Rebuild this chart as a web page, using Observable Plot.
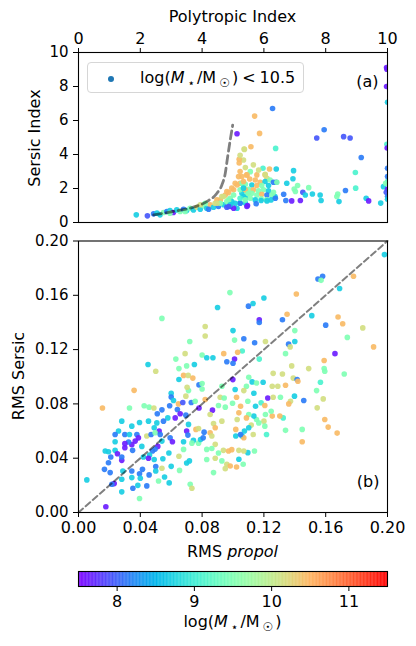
<!DOCTYPE html>
<html><head><meta charset="utf-8">
<script src="https://cdn.jsdelivr.net/npm/d3@7"></script>
<script src="https://cdn.jsdelivr.net/npm/@observablehq/plot@0.6"></script>
<style>
body{margin:0;background:#fff;font-family:"DejaVu Sans",sans-serif;}
#root{position:relative;width:416px;height:646px;overflow:hidden;background:#fff;}
#root svg{position:absolute;left:0;}
.lab{position:absolute;font-size:16px;white-space:nowrap;line-height:16px;color:#000;font-family:"DejaVu Sans",sans-serif;}
.lab sub{font-size:12px;vertical-align:-4px;line-height:0;margin:0 2px 0 3px;}
.lab .op{margin:0 4px;}
.rot{transform:translate(-50%,-50%) rotate(-90deg);}
#legend{position:absolute;left:87px;top:62px;width:215px;height:29px;border:1px solid #d6d6d6;border-radius:4px;background:rgba(255,255,255,0.85);}
#legdot{position:absolute;left:20px;top:13px;width:6px;height:6px;border-radius:50%;background:#1f77b4;}
#legtxt{left:52px;top:7px;}
</style></head><body><div id="root"></div>
<script>
// mass codes (log M*/Msun)
const P = 7.65, BP = 7.95, B = 8.15, C = 8.7, CG = 9.1, LG = 9.5, YG = 10.15, O = 10.45;

// panel (a): [polytropic index, sersic index, log mass]
const panelA = [
[6.28,6.71,B],[5.70,6.26,O],[5.86,5.24,O],[5.13,5.22,P],[7.71,4.97,BP],[7.95,5.46,B],[8.58,5.05,BP],[8.79,4.97,BP],
[6.38,4.36,CG],[5.58,4.46,O],[5.36,4.32,YG],[9.15,3.82,B],
[9.97,9.12,P],[9.98,9.02,P],[9.97,8.0,P],[10.0,7.07,C],[9.98,4.6,CG],[9.99,4.38,P],
[5.66,3.39,YG],[5.97,3.19,CG],[6.18,3.15,O],[6.40,3.15,C],[6.96,3.05,C],[6.04,2.80,O],[6.10,2.60,YG],[5.77,2.80,O],
[8.96,2.94,CG],[6.94,2.57,C],[6.74,2.31,C],[7.09,2.17,LG],[6.98,1.97,LG],[7.45,2.05,LG],[7.57,1.68,C],[7.26,1.78,BP],
[6.64,1.66,B],[7.82,1.62,C],[7.85,1.29,C],[8.39,1.68,LG],[8.36,1.53,LG],[8.43,1.23,C],[8.64,1.88,B],[8.97,2.02,CG],
[9.31,1.43,C],[9.39,1.27,P],[9.78,1.14,C],[9.87,2.11,C],[10.0,3.19,B],[10.0,2.70,B],[10.0,2.41,CG],[9.94,2.31,LG],
[10.0,1.96,P],[9.96,1.78,BP],[10.0,1.53,B],[10.0,1.37,C],[6.36,1.53,C],[6.40,2.37,B],[6.90,1.27,P],[7.18,1.29,P],
[6.71,1.29,B],[7.02,1.82,LG],[7.34,1.62,C],
[5.34,3.68,YG],[5.40,3.23,YG],[5.23,3.0,O],[5.29,2.70,O],[5.45,2.80,O],[5.56,2.99,LG],[5.83,3.09,YG],[6.04,2.84,YG],
[5.54,2.56,O],[5.72,2.50,O],[5.88,2.37,O],[6.04,2.41,C],[6.20,2.50,LG],[6.31,2.37,B],[6.42,2.37,LG],
[5.23,2.31,O],[5.40,2.25,LG],[5.61,2.21,C],[5.77,2.17,O],[5.93,2.17,LG],[6.15,2.17,C],
[5.34,2.02,LG],[5.50,1.96,LG],[5.66,1.92,O],[5.83,1.86,LG],[5.99,1.92,LG],[6.15,1.86,C],[6.31,1.78,LG],
[5.29,1.72,C],[5.45,1.66,LG],[5.61,1.72,LG],[5.77,1.62,LG],[5.93,1.66,O],[6.10,1.62,B],[6.26,1.62,LG],
[5.40,1.43,C],[5.56,1.43,LG],[5.72,1.33,C],[5.91,1.39,LG],[6.08,1.33,LG],[6.23,1.33,C],[6.37,1.43,B],
[5.40,1.14,C],[5.47,1.00,P],[5.75,1.10,B],[5.91,1.29,C],[6.10,1.27,C],[5.23,1.14,C],
[1.87,0.45,C],[2.23,0.39,BP],[2.43,0.51,B],[2.54,0.55,C],[2.64,0.45,C],[2.75,0.59,LG],[2.86,0.65,B],[2.96,0.70,C],
[3.07,0.59,P],[3.18,0.74,C],[3.29,0.65,LG],[3.40,0.78,B],[3.50,0.70,C],[3.61,0.84,LG],[3.72,0.74,C],[3.83,0.90,YG],
[3.94,0.78,C],[4.05,0.98,LG],[4.15,0.84,C],[4.26,1.04,O],[4.37,0.90,C],[4.42,1.13,YG],[4.53,0.94,B],[4.59,1.33,O],
[4.70,1.04,C],[4.80,0.90,BP],[4.91,0.94,P],[4.75,1.62,O],[4.91,1.43,LG],[5.02,1.92,O],[5.07,2.31,O],[5.18,2.70,O],
[5.20,3.72,O],[5.20,3.50,O],[5.23,3.95,YG],[5.37,4.30,YG],[5.29,2.31,LG],[5.34,1.53,C],[5.40,1.92,O],[5.23,1.13,B],[5.07,1.13,C],
[5.13,0.84,C],[5.02,0.84,P],[2.96,0.55,LG],[3.45,0.65,LG],[3.94,1.04,YG],[4.10,1.13,LG],[4.21,0.78,B],[4.48,1.33,O],
[4.64,1.53,YG],[4.86,1.76,O],[4.96,1.23,C],[4.80,1.23,LG],[4.59,1.13,LG],
[5.23,1.92,LG],[5.34,2.41,O],[5.45,2.80,O],[5.13,2.21,O],[4.96,2.02,O],[4.80,1.82,O],[4.70,1.53,YG],
[5.02,1.62,LG],[5.23,1.43,CG],[4.86,1.33,LG],[4.48,1.13,YG],[4.91,1.04,C],[4.86,0.94,BP],[5.45,0.94,P],
[5.34,2.02,C],[5.50,1.72,LG],[5.39,1.33,LG]
];

// dashed relation in panel (a)
const curvePoly   = [2.43, 3.07, 3.72, 4.15, 4.48, 4.64, 4.75, 4.82, 4.91, 4.99];
const curveSersic = [0.45, 0.65, 0.90, 1.23, 1.72, 2.21, 2.90, 3.78, 4.85, 5.73];

// panel (b): [RMS propol, RMS Sersic, log mass]
const panelB = [
[0.198,0.190,C],[0.155,0.172,B],[0.158,0.174,B],[0.157,0.171,LG],
[0.178,0.174,O],[0.169,0.165,C],[0.141,0.161,O],[0.098,0.162,LG],[0.120,0.158,C],
[0.110,0.152,B],[0.113,0.154,C],[0.090,0.151,C],[0.135,0.146,O],[0.151,0.145,C],[0.132,0.142,B],
[0.117,0.142,P],[0.117,0.140,B],[0.168,0.144,O],[0.171,0.139,O],[0.160,0.138,B],[0.184,0.136,YG],
[0.054,0.143,LG],[0.082,0.137,YG],[0.082,0.130,YG],[0.100,0.134,C],[0.140,0.134,LG],[0.174,0.129,LG],
[0.107,0.128,B],[0.101,0.127,LG],[0.121,0.126,YG],[0.072,0.126,LG],[0.140,0.126,C],[0.114,0.125,B],
[0.136,0.124,B],[0.137,0.122,YG],[0.191,0.122,O],[0.106,0.119,CG],[0.103,0.118,O],[0.094,0.117,O],
[0.069,0.117,YG],[0.080,0.116,LG],[0.083,0.114,C],[0.087,0.114,C],[0.063,0.113,LG],[0.101,0.113,P],
[0.096,0.111,B],[0.100,0.110,B],[0.117,0.113,CG],[0.134,0.117,LG],[0.138,0.108,YG],[0.166,0.117,P],
[0.159,0.112,O],[0.045,0.109,C],[0.075,0.109,C],[0.070,0.108,LG],[0.065,0.106,LG],[0.050,0.104,YG],
[0.149,0.106,YG],[0.159,0.106,LG],
[0.065,0.098,C],[0.068,0.101,O],[0.071,0.101,YG],[0.074,0.099,O],[0.078,0.094,B],[0.080,0.095,LG],[0.080,0.091,LG],
[0.036,0.090,O],[0.0155,0.077,O],[0.033,0.077,LG],[0.0425,0.0786,LG],[0.0457,0.0776,LG],[0.0488,0.077,YG],
[0.054,0.0756,B],[0.051,0.0727,B],[0.059,0.0786,B],[0.060,0.0879,C],[0.060,0.085,B],[0.0615,0.0825,C],
[0.0647,0.080,O],[0.0675,0.081,BP],[0.0695,0.0857,YG],[0.0712,0.0898,LG],[0.0703,0.0923,YG],[0.073,0.081,B],
[0.0755,0.082,LG],[0.078,0.077,P],[0.064,0.0759,B],[0.0658,0.0727,P],[0.0626,0.0697,P],[0.0695,0.0717,B],
[0.0712,0.0649,C],[0.0578,0.0697,C],[0.055,0.0673,B],[0.0522,0.060,P],[0.049,0.0624,C],[0.0453,0.0673,C],
[0.0507,0.066,C],[0.0395,0.0663,C],[0.0345,0.0636,C],[0.028,0.0673,C],[0.0259,0.060,C],[0.0237,0.0575,B],
[0.030,0.0575,B],[0.033,0.0575,C],[0.0378,0.0575,B],[0.0388,0.055,P],[0.0367,0.0526,P],[0.0345,0.050,P],
[0.0442,0.0563,YG],[0.041,0.0487,C],[0.047,0.0575,B],[0.0496,0.0587,LG],[0.0529,0.0575,B],[0.054,0.0526,C],
[0.0593,0.055,B],[0.0608,0.0521,P],[0.068,0.0521,C],[0.070,0.060,P],[0.0708,0.057,B],[0.076,0.0612,O],
[0.0777,0.0619,YG],[0.0744,0.0531,C],[0.0777,0.0511,LG],[0.079,0.0538,C],[0.0807,0.055,B],[0.0813,0.0592,B],
[0.0734,0.0511,LG],[0.068,0.0465,LG],[0.0513,0.0487,P],[0.0496,0.0467,B],[0.0479,0.0453,B],[0.046,0.0423,C],
[0.042,0.0409,C],[0.0453,0.040,P],[0.049,0.039,C],[0.0546,0.0396,C],[0.0585,0.0438,C],[0.065,0.0414,YG],
[0.0654,0.031,LG],[0.060,0.034,C],[0.070,0.0365,C],[0.0718,0.038,C],[0.054,0.0326,YG],[0.050,0.0338,B],
[0.050,0.0306,C],[0.0457,0.0277,B],[0.0414,0.0318,B],[0.0395,0.0286,B],[0.040,0.0252,C],[0.0345,0.0306,B],
[0.0345,0.0257,C],[0.0287,0.0306,C],[0.028,0.0245,C],[0.0231,0.0213,P],[0.0216,0.0208,B],[0.0205,0.0294,B],
[0.0168,0.0318,B],[0.0194,0.0367,B],[0.0209,0.0409,B],[0.0173,0.0453,C],[0.0194,0.0448,C],[0.0237,0.0458,C],
[0.0252,0.0433,P],[0.028,0.0384,P],[0.028,0.0409,B],[0.030,0.0477,P],[0.035,0.0458,B],[0.0324,0.0519,B],
[0.030,0.0507,P],[0.0237,0.0521,C],[0.0518,0.0232,LG],[0.0557,0.0262,C],[0.0587,0.0218,C],[0.0442,0.0196,B],
[0.0384,0.020,C],[0.0352,0.0179,B],[0.028,0.0152,C],[0.0395,0.0103,LG],[0.0723,0.0208,LG],[0.0734,0.0179,YG],
[0.0054,0.024,C],[0.0177,0.0042,P],
[0.0867,0.0754,P],[0.082,0.0832,O],[0.0906,0.0788,LG],[0.0917,0.0849,YG],[0.095,0.0776,LG],[0.0943,0.0844,LG],
[0.0997,0.0805,LG],[0.1014,0.0906,C],[0.0928,0.093,LG],[0.0999,0.0979,P],[0.0852,0.0722,YG],[0.0874,0.0656,YG],
[0.0885,0.0624,O],[0.0852,0.0587,O],[0.0863,0.0563,YG],[0.0928,0.0673,YG],[0.1018,0.0612,O],[0.1018,0.0563,C],
[0.0885,0.0502,YG],[0.083,0.0465,LG],[0.0863,0.0472,LG],[0.0938,0.0458,YG],[0.0906,0.0438,LG],[0.0971,0.0453,O],
[0.0992,0.0463,O],[0.0885,0.040,YG],[0.0928,0.038,LG],[0.096,0.0355,YG],[0.0982,0.0343,O],[0.095,0.0323,YG],
[0.0874,0.0294,LG],[0.083,0.039,LG],
[0.1102,0.0996,LG],[0.1124,0.0962,C],[0.1152,0.0954,LG],[0.1195,0.0959,C],[0.1087,0.093,LG],[0.1254,0.093,YG],
[0.129,0.093,YG],[0.134,0.0937,O],[0.126,0.1025,YG],[0.132,0.102,YG],[0.139,0.099,YG],[0.1415,0.0979,B],
[0.142,0.0967,O],[0.1566,0.0959,CG],[0.1594,0.104,LG],[0.172,0.102,LG],[0.107,0.0898,YG],[0.1135,0.0879,C],
[0.1023,0.0849,O],[0.1049,0.0783,O],[0.1096,0.082,LG],[0.1146,0.0783,C],[0.1182,0.0808,CG],[0.1206,0.0788,O],
[0.1225,0.0844,P],[0.126,0.0849,YG],[0.1307,0.0849,LG],[0.1398,0.0857,C],[0.1372,0.082,YG],[0.1361,0.080,O],
[0.1458,0.0825,B],[0.1541,0.0898,LG],[0.1584,0.0837,YG],[0.1545,0.0771,YG],[0.1594,0.0685,O],[0.1616,0.0629,O],
[0.1674,0.0585,O],[0.1448,0.0612,LG],[0.1448,0.0521,O],[0.134,0.0605,LG],[0.1325,0.0697,CG],[0.1303,0.071,O],
[0.1254,0.071,O],[0.1247,0.0746,LG],[0.121,0.0722,LG],[0.120,0.0673,YG],[0.1206,0.0636,LG],[0.1152,0.0685,LG],
[0.1135,0.071,C],[0.1102,0.0722,LG],[0.1087,0.0697,O],[0.1038,0.0734,O],[0.1027,0.0685,YG],[0.1167,0.066,LG],
[0.1118,0.0644,YG],[0.1102,0.0624,C],[0.1074,0.060,C],[0.1059,0.0563,C],[0.107,0.0551,O],[0.1049,0.0575,B],
[0.1131,0.0575,YG],[0.1139,0.0453,LG],[0.1096,0.0441,C],[0.107,0.0453,YG],[0.1038,0.0458,YG],[0.1038,0.0392,C],
[0.1066,0.0355,LG],[0.1023,0.0335,O],[0.1217,0.0575,CG]
];

// one-to-one line in panel (b)
const diagX = [0, 0.2];

// ticks
const ticksA = [0, 2, 4, 6, 8, 10];
const ticksB = [0, 0.04, 0.08, 0.12, 0.16, 0.20];
const ticksCB = [8, 9, 10, 11];
const massDomain = [7.5, 11.5];

// matplotlib "rainbow" colormap
function rainbow(t) {
  const r = Math.min(1, Math.abs(2 * t - 0.5));
  const g = Math.max(0, Math.sin(Math.PI * t));
  const b = Math.max(0, Math.cos(Math.PI * t / 2));
  return `rgb(${Math.round(r * 255)},${Math.round(g * 255)},${Math.round(b * 255)})`;
}
const colorOpts = {type: "linear", domain: massDomain, interpolate: rainbow};
const style = {fontFamily: "DejaVu Sans, sans-serif", fontSize: "16px", color: "black", background: "white", overflow: "visible"};
const fmt2 = d3.format(".2f");
const fmtInt = d3.format("d");
const FS = 16;

const root = document.getElementById("root");

// ---- panel (a)
const plotA = Plot.plot({
  width: 416, height: 232,
  marginLeft: 78, marginRight: 29, marginTop: 52, marginBottom: 10,
  style,
  x: {domain: [0, 10]},
  y: {domain: [0, 10]},
  color: colorOpts,
  marks: [
    Plot.dot(panelA, {x: d => d[0], y: d => d[1], fill: d => d[2], r: 2.8, fillOpacity: 0.92, clip: true}),
    Plot.line(curvePoly.map((p, i) => [p, curveSersic[i]]), {x: d => d[0], y: d => d[1], curve: "monotone-x",
      stroke: "black", strokeOpacity: 0.5, strokeWidth: 2.8, strokeDasharray: "8,4.5"}),
    Plot.frame({stroke: "black", strokeWidth: 1.1}),
    Plot.axisX({anchor: "top", ticks: ticksA, tickFormat: fmtInt, tickSize: 5, tickPadding: 4, label: null, fontSize: FS}),
    Plot.axisY({ticks: ticksA, tickFormat: fmtInt, tickSize: 5, tickPadding: 5, label: null, fontSize: 15}),
    Plot.text(["(a)"], {text: d => d, frameAnchor: "top-right", dx: -9, dy: 29, textAnchor: "end", lineAnchor: "middle", fontSize: FS})
  ]
});
plotA.style.top = "0px";
root.appendChild(plotA);

// ---- panel (b)
const plotB = Plot.plot({
  width: 416, height: 332,
  marginLeft: 78, marginRight: 29, marginTop: 8.5, marginBottom: 52,
  style,
  x: {domain: [0, 0.2]},
  y: {domain: [0, 0.2]},
  color: colorOpts,
  marks: [
    Plot.dot(panelB, {x: d => d[0], y: d => d[1], fill: d => d[2], r: 2.8, fillOpacity: 0.92, clip: true}),
    Plot.line(diagX, {x: d => d, y: d => d, stroke: "black", strokeOpacity: 0.5, strokeWidth: 2, strokeDasharray: "6,3.5"}),
    Plot.frame({stroke: "black", strokeWidth: 1.1}),
    Plot.axisX({ticks: ticksB, tickFormat: fmt2, tickSize: 5, tickPadding: 4, label: null, fontSize: FS}),
    Plot.axisY({ticks: ticksB, tickFormat: fmt2, tickSize: 5, tickPadding: 5, label: null, fontSize: 15}),
    Plot.text(["(b)"], {text: d => d, frameAnchor: "bottom-right", dx: -8, dy: -31, textAnchor: "end", lineAnchor: "middle", fontSize: FS})
  ]
});
plotB.style.top = "232px";
root.appendChild(plotB);

// ---- colorbar
const cbStep = 0.01;
const cbCells = d3.range(massDomain[0], massDomain[1], cbStep);
const plotC = Plot.plot({
  width: 416, height: 82,
  marginLeft: 78, marginRight: 29, marginTop: 7, marginBottom: 60,
  style,
  x: {domain: massDomain},
  color: colorOpts,
  marks: [
    Plot.rect(cbCells, {x1: d => d, x2: d => Math.min(massDomain[1], d + cbStep * 1.3), fill: d => d + cbStep / 2}),
    Plot.frame({stroke: "black", strokeWidth: 1.1}),
    Plot.axisX({ticks: ticksCB, tickFormat: fmtInt, tickSize: 5, tickPadding: 4, label: null, fontSize: FS})
  ]
});
plotC.style.top = "564px";
root.appendChild(plotC);

// ---- axis titles, rich-text labels and legend
function addLabel(html, css, cls) {
  const d = document.createElement("div");
  d.className = "lab" + (cls ? " " + cls : "");
  d.innerHTML = html;
  Object.assign(d.style, css);
  root.appendChild(d);
  return d;
}
addLabel('Polytropic Index', {left: "78px", width: "309px", textAlign: "center", top: "9px"});
addLabel('Sersic Index', {left: "35px", top: "138px"}, "rot");
addLabel('RMS Sersic', {left: "19px", top: "376px"}, "rot");
addLabel('RMS <i>propol</i>', {left: "78px", width: "309px", textAlign: "center", top: "544px"});
addLabel('log(<i>M</i><sub>⋆</sub>/M<sub>☉</sub>)', {left: "78px", width: "309px", textAlign: "center", top: "614px"});

const legend = document.createElement("div");
legend.id = "legend";
legend.innerHTML = '<div id="legdot"></div><div class="lab" id="legtxt">log(<i>M</i><sub>⋆</sub>/M<sub>☉</sub>)<span class="op">&lt;</span>10.5</div>';
root.appendChild(legend);
</script>
</body></html>
